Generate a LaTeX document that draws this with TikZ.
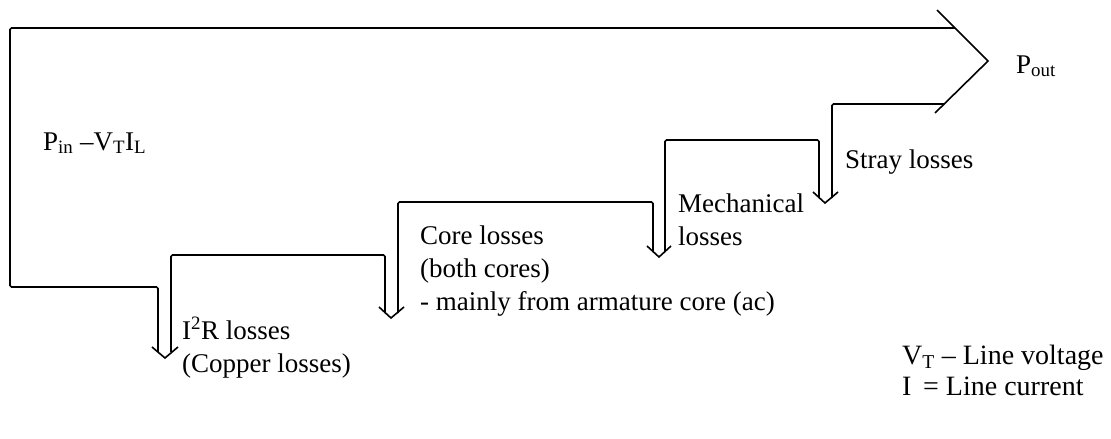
\documentclass[tikz,border=0pt]{standalone}
\usepackage{fontspec}
\setmainfont{Liberation Serif}
\begin{document}
\begin{tikzpicture}[x=1pt,y=-1pt,
  band/.style={line width=1.6pt,line join=miter,rounded corners=1.5pt},
  vhead/.style={line width=1.6pt,line join=miter},
  lbl/.style={anchor=base west,inner sep=0pt,font=\fontsize{27}{33}\selectfont,align=left}]
\useasboundingbox (0,0) rectangle (1111,439);
% main flow outline
\draw[band] (955,28) -- (10,28) -- (10,287) -- (158,287) -- (158,352);
\draw[band] (171,352) -- (171,255) -- (385,255) -- (385,313);
\draw[band] (398,313) -- (398,202) -- (653,202) -- (653,252);
\draw[band] (665,252) -- (665,140) -- (819,140) -- (819,198);
\draw[band] (832,198) -- (832,104) -- (944,104);
% output arrow head
\draw[vhead] (937,10) -- (988,61) -- (935,113);
% loss arrow heads
\draw[vhead] (152,347) -- (165,358) -- (178,347);
\draw[vhead] (379,307) -- (391,318) -- (404,307);
\draw[vhead] (647,246) -- (659,257) -- (671,246);
\draw[vhead] (813,192) -- (825,203) -- (838,192);
% labels
\node[lbl] (pin) at (43,150) {P\textsubscript{in} –V\textsubscript{T}I\textsubscript{L}};
\node[lbl] (pout) at (1016,73) {P\textsubscript{out}};
\node[lbl] (cu) at (182,372) {I\textsuperscript{2}R losses\\(Copper losses)};
\node[lbl] (core) at (420,310) {Core losses\\(both cores)\\- mainly from armature core (ac)};
\node[lbl] (mech) at (678,245) {Mechanical\\losses};
\node[lbl] (stray) at (845,168) {Stray losses};
\node[lbl,font=\fontsize{28}{31}\selectfont] (legend) at (902,395) {V\textsubscript{T} – Line voltage\\I\, = Line current};
\end{tikzpicture}
\end{document}
